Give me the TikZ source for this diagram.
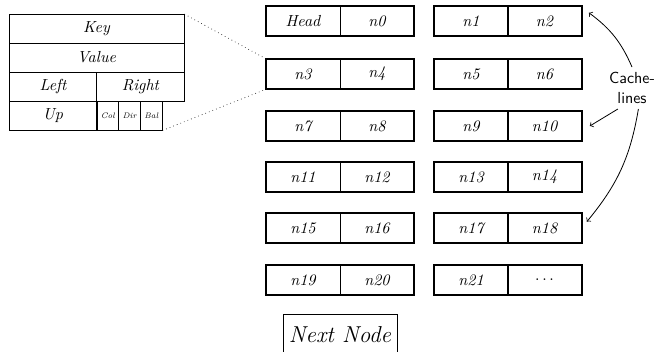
\documentclass[tikz,border=0pt]{standalone}
\usetikzlibrary{arrows}
\tikzset{
  field/.style={draw, line width=0.5pt, inner sep=0pt, minimum height=18.1pt, font=\itshape},
  flag/.style={field, minimum width=13.56pt, font=\tiny\itshape},
  cell/.style={draw, line width=0.4pt, inner sep=0pt, minimum width=46.25pt, minimum height=18.75pt, font=\itshape},
  pair/.style={line width=1.2pt},
  pointer/.style={->, line width=0.5pt},
}
\begin{document}
\begin{tikzpicture}[x=0.625pt, y=-0.625pt]
        \useasboundingbox (0,0) rectangle (664,351);
        % node layout
        \node[field, minimum width=109.4pt] (key) at (96.5,29) {Key};
        \node[field, minimum width=109.4pt] (value) at (96.5,57.5) {Value};
        \node[field, minimum width=54.7pt] (left) at (53,86.5) {Left};
        \node[field, minimum width=54.7pt] (right) at (140.5,86.5) {Right};
        \node[field, minimum width=54.7pt] (up) at (53,115.5) {Up};
        \node[flag] (col) at (107.9,115.5) {Col};
        \node[flag] (dir) at (129.6,115.5) {Dir};
        \node[flag] (bal) at (151.3,115.5) {Bal};
        % cache lines
        \foreach \y/\a/\b/\c/\d [count=\r] in {21/Head/n0/n1/n2, 74/n3/n4/n5/n6, 126/n7/n8/n9/n10, 177/n11/n12/n13/n14, 228/n15/n16/n17/n18, 280/n19/n20/n21/$\ldots$}
        {
            \node[cell] (a\r) at (303,\y) {\a};
            \node[cell] (b\r) at (377,\y) {\b};
            \node[cell] (c\r) at (471,\y) {\c};
            \node[cell] (d\r) at (544.5,\y) {\d};
            \draw[pair] (a\r.north west) rectangle (b\r.south east);
            \draw[pair] (c\r.north west) rectangle (d\r.south east);
        }
        \draw[dotted] (key.north east) -- (a2.north west);
        \draw[dotted] (bal.south east) -- (a2.south west);
        \node[draw, line width=0.4pt, anchor=north, minimum width=71.25pt, minimum height=25pt, font=\Large\itshape] (next) at (340,314) {Next Node};
        % label
        \node[font=\sffamily, align=center] (cachelbl) at (632,88) {Cache-\\lines};
        \draw[pointer] (cachelbl.north) to[bend right=15] ([shift={(7,7)}]d1.north east);
        \draw[pointer] ([xshift=9pt]cachelbl.south west) -- ([shift={(8,0)}]d3.east);
        \draw[pointer] ([xshift=4pt]cachelbl.south) to[bend left=15] ([shift={(5,9)}]d5.north east);
    \end{tikzpicture}
\end{document}
